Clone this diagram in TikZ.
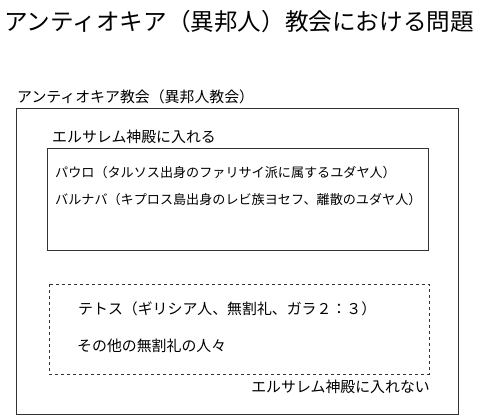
\documentclass[tikz,border=0pt]{standalone}
\usepackage{fontspec}
\setmainfont{Noto Sans CJK JP}

\tikzset{
  box/.style={draw=black!80, line width=0.9pt},
  lbl/.style={anchor=west, inner sep=0pt, font=\fontsize{14.9}{17}\selectfont},
  member/.style={anchor=west, inner sep=0pt, font=\fontsize{13.1}{15}\selectfont}
}

\begin{document}
\begin{tikzpicture}[x=1pt, y=-1pt]
\useasboundingbox[fill=white] (0,0) rectangle (500,417);
\node[anchor=west, inner sep=0pt, font=\fontsize{23.6}{26}\selectfont] (title) at (4,22) {アンティオキア（異邦人）教会における問題};
% boxes
\draw[box] (16,108) rectangle (458,414);
\draw[box] (47,148) rectangle (428,250);
\draw[box, dashed] (49,284) rectangle (429,374);
% labels
\node[lbl] (church) at (17,97) {アンティオキア教会（異邦人教会）};
\node[lbl] (inside) at (52,137) {エルサレム神殿に入れる};
\node[member] (paul) at (55,173) {パウロ（タルソス出身のファリサイ派に属するユダヤ人）};
\node[member] (barnabas) at (55,200) {バルナバ（キプロス島出身のレビ族ヨセフ、離散のユダヤ人）};
\node[lbl] (titus) at (78,309) {テトス（ギリシア人、無割礼、ガラ２：３）};
\node[lbl] (others) at (77,346) {その他の無割礼の人々};
\node[lbl, anchor=east] (outside) at (430,387) {エルサレム神殿に入れない};
\end{tikzpicture}
\end{document}
